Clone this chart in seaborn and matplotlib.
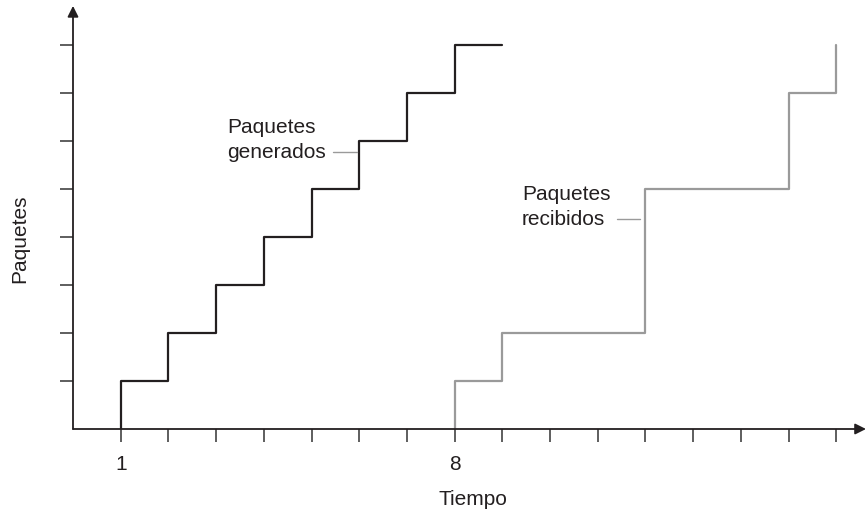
import matplotlib
matplotlib.use("Agg")
import matplotlib.pyplot as plt
import seaborn as sns
import pandas as pd

# ---- data ----
gen_time = [1, 1, 2, 3, 4, 5, 6, 7, 8, 9]
gen_packets = [0, 1, 2, 3, 4, 5, 6, 7, 8, 8]
rec_time = [8, 8, 9, 12, 15, 16]
rec_packets = [0, 1, 2, 5, 7, 8]
x_ticks = list(range(1, 17))
x_tick_labels = ["1", "", "", "", "", "", "", "8", "", "", "", "", "", "", "", ""]
y_ticks = list(range(1, 9))

sns.set_style("white")
plt.rcParams["font.family"] = ["Liberation Sans", "DejaVu Sans"]

dark = "#231f20"
grey = "#9a9a9a"
axcol = "#333333"

fig = plt.figure(figsize=(8.67, 5.14), dpi=100)
ax = fig.add_axes([73 / 867, 85 / 514, 793 / 867, 421 / 514])

gen_df = pd.DataFrame({"t": gen_time, "p": gen_packets})
rec_df = pd.DataFrame({"t": rec_time, "p": rec_packets})
sns.lineplot(data=gen_df, x="t", y="p", ax=ax, sort=False, estimator=None,
             drawstyle="steps-post", color=dark, linewidth=1.6)
sns.lineplot(data=rec_df, x="t", y="p", ax=ax, sort=False, estimator=None,
             drawstyle="steps-post", color=grey, linewidth=1.6)

ax.set_xlim(0, 793 / 47.7)
ax.set_ylim(0, 421 / 48)

for s in ax.spines.values():
    s.set_visible(False)

# axes with arrow heads
ax.annotate("", xy=(1, 0), xycoords="axes fraction", xytext=(0, 0),
            arrowprops=dict(arrowstyle="-|>", color=dark, lw=1.3,
                            shrinkA=0, shrinkB=0, mutation_scale=16))
ax.annotate("", xy=(0, 1.005), xycoords="axes fraction", xytext=(0, 0),
            arrowprops=dict(arrowstyle="-|>", color=dark, lw=1.3,
                            shrinkA=0, shrinkB=0, mutation_scale=16))

ax.set_xticks(x_ticks)
ax.set_xticklabels(x_tick_labels)
ax.set_yticks(y_ticks)
ax.set_yticklabels([])
ax.tick_params(axis="x", direction="out", length=9, width=1.1, color=axcol,
               pad=10, labelsize=15, labelcolor=dark, bottom=True)
ax.tick_params(axis="y", direction="out", length=9.5, width=1.1, color=axcol,
               left=True)

ax.set_xlabel("Tiempo", fontsize=15, color=dark)
ax.set_ylabel("Paquetes", fontsize=15, color=dark)
ax.xaxis.set_label_coords((473 - 73) / 793, (429 - 490) / 421)
ax.yaxis.set_label_coords((29 - 73) / 793, (429 - 239) / 421)
ax.grid(False)

# annotations
ax.text((227 - 73) / 47.7, (429 - 118) / 48, "Paquetes\ngenerados",
        ha="left", va="top", fontsize=15, color=dark, linespacing=1.4)
ax.plot([(333 - 73) / 47.7, (357 - 73) / 47.7], [(429 - 152) / 48] * 2,
        color=grey, lw=1.0)
ax.text((522 - 73) / 47.7, (429 - 185) / 48, "Paquetes\nrecibidos",
        ha="left", va="top", fontsize=15, color=dark, linespacing=1.4)
ax.plot([(617 - 73) / 47.7, (640 - 73) / 47.7], [(429 - 219) / 48] * 2,
        color=grey, lw=1.0)

fig.savefig("out.png", dpi=100)
